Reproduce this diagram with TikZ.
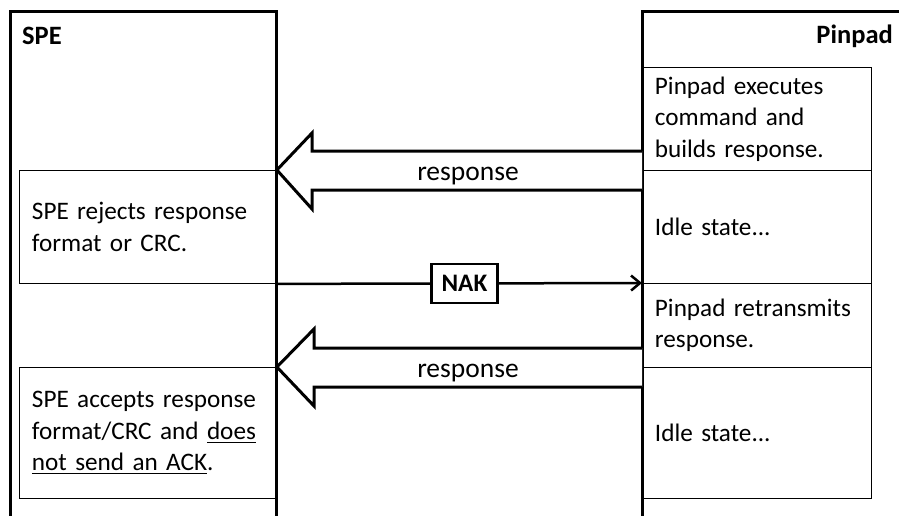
\documentclass[tikz,border=0pt]{standalone}
\usepackage{fontspec}
\setmainfont{Carlito}
\usetikzlibrary{arrows.meta,calc}
\newcommand\myul[1]{\leavevmode\setbox0\hbox{#1}\rlap{\rule[-3.5pt]{\wd0}{1.2pt}}\box0}
\begin{document}
\begin{tikzpicture}[x=1pt,y=-1pt,
  lanel/.style={line width=3pt, line cap=rect},
  stepbox/.style={draw, line width=0.9pt, inner xsep=12.5pt, inner ysep=0pt, anchor=north west, align=left,
     font=\fontsize{25.2}{31.5}\selectfont},
  lbox/.style={stepbox, minimum width=257pt, text width=232pt},
  rbox/.style={stepbox, minimum width=229pt, text width=204pt},
  bigarrow/.style={line width=3pt, fill=white, line join=miter},
  lbl/.style={font=\fontsize{27.5}{31}\selectfont, anchor=base, inner sep=0pt},
  head/.style={font=\fontsize{26.5}{31}\selectfont\bfseries, inner sep=0pt},
  msg/.style={line width=2.5pt, -{Straight Barb[length=9pt,width=15pt,line width=2.5pt]}},
  tagbox/.style={draw, line width=2.5pt, fill=white, minimum width=66pt, minimum height=39pt, inner sep=0pt,
     font=\fontsize{25.2}{31}\selectfont\bfseries},
]
\useasboundingbox (0,0) rectangle (899,515);

% step boxes
\node[lbox, minimum height=113pt] (rej) at (19,170) {SPE rejects response\\format or CRC.};
\node[lbox, minimum height=131pt] (acc) at (19,367) {SPE accepts response\\format/CRC and \myul{does}\\\myul{not send an ACK}.};
\node[rbox, minimum height=103pt] (exe) at (642,67) {Pinpad executes\\command and\\builds response.};
\node[rbox, minimum height=113pt] (idle1) at (642,170) {Idle state...};
\node[rbox, minimum height=84pt] (retx) at (642,283) {Pinpad retransmits\\response.};
\node[rbox, minimum height=131pt] (idle2) at (642,367) {Idle state...};

% lanes
\coordinate (sa) at (10,530);
\coordinate (sb) at (10,11);
\coordinate (sc) at (276,11);
\coordinate (sd) at (276,530);
\coordinate (pa) at (642,530);
\coordinate (pb) at (642,11);
\coordinate (pc) at (910,11);
\draw[lanel] (sa) -- (sb) -- (sc) -- (sd);
\draw[lanel] (pa) -- (pb) -- (pc);
\node[head, anchor=west] (spe) at (22,36) {SPE};
\node[head, anchor=east] (pin) at (893,36) {Pinpad};

% response arrow 1
\draw[bigarrow] (642,151) -- (312,151) -- (312,133) -- (rej.north east) -- (312,209) -- (312,190) -- (642,190);
\node[lbl] (r1) at (468,180) {response};

% NAK
\draw[msg] (rej.south east) -- (retx.north west) node[tagbox, midway, xshift=5pt] (nak) {NAK};

% response arrow 2
\draw[bigarrow] (642,348) -- (314,348) -- (314,329) -- (acc.north east) -- (314,406) -- (314,387) -- (642,387);
\node[lbl] (r2) at (468,377) {response};
\end{tikzpicture}
\end{document}
